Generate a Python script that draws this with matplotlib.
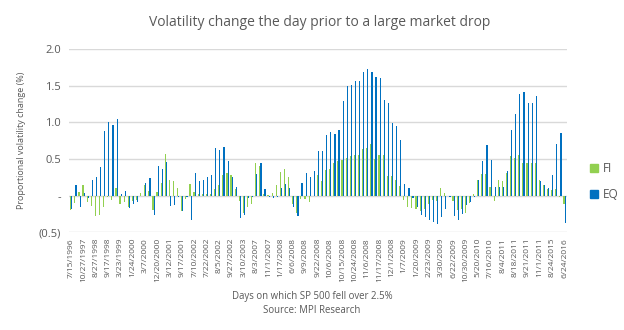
import matplotlib

matplotlib.use("Agg")
import matplotlib.pyplot as plt
import numpy as np
from matplotlib.patches import Patch

plt.rcParams["font.family"] = ["Open Sans", "DejaVu Sans"]

# Every third trading day gets a date label on the category axis
tick_labels = [
    "7/15/1996", "10/27/1997", "8/27/1998", "9/17/1998", "3/23/1999",
    "1/24/2000", "3/7/2000", "12/20/2000", "3/12/2001", "9/17/2001",
    "7/10/2002", "7/22/2002", "8/5/2002", "9/27/2002", "3/10/2003",
    "8/3/2007", "11/1/2007", "1/17/2008", "6/6/2008", "9/9/2008",
    "9/22/2008", "10/6/2008", "10/15/2008", "10/24/2008", "11/6/2008",
    "11/17/2008", "12/1/2008", "1/7/2009", "1/20/2009", "2/23/2009",
    "3/30/2009", "6/22/2009", "10/30/2009", "5/20/2010", "7/16/2010",
    "8/4/2011", "8/18/2011", "9/21/2011", "11/1/2011", "8/24/2015",
    "6/24/2016",
]
label_step = 3

# Proportional volatility change, fixed income
fi_values = [
    -0.20, -0.10, 0.05, 0.14, -0.09, -0.14, -0.28, -0.26, -0.16, -0.02,
    -0.06, 0.10, -0.11, -0.09, -0.16, -0.07, -0.06, 0.03, 0.14, 0.06,
    -0.20, 0.05, 0.18, 0.57, 0.22, 0.20, 0.10, -0.21, -0.05, 0.16,
    0.05, 0.02, 0.02, 0.02, 0.02, 0.09, 0.14, 0.28, 0.31, 0.28,
    0.09, -0.07, -0.24, -0.16, -0.12, 0.44, 0.40, 0.02, 0.005, 0.03,
    0.14, 0.32, 0.36, 0.26, -0.11, -0.24, -0.05, -0.05, -0.09, 0.0,
    0.28, 0.20, 0.35, 0.37, 0.44, 0.47, 0.49, 0.51, 0.54, 0.55,
    0.555, 0.635, 0.655, 0.70, 0.50, 0.555, 0.555, 0.265, 0.265, 0.21,
    0.13, -0.06, -0.155, -0.17, -0.18, -0.21, -0.18, -0.11, -0.06, -0.07,
    0.10, 0.03, 0.0, -0.07, -0.20, -0.18, -0.24, -0.10, 0.02, 0.21,
    0.29, 0.29, 0.115, -0.07, 0.22, 0.20, 0.31, 0.54, 0.52, 0.55,
    0.44, 0.44, 0.44, 0.44, 0.21, 0.14, 0.09, 0.08, 0.09, -0.02,
    -0.11,
]

# Proportional volatility change, equities
eq_values = [
    -0.18, 0.14, -0.15, 0.03, -0.03, 0.22, 0.26, 0.39, 0.88, 1.01,
    0.97, 1.04, 0.02, 0.06, -0.17, -0.12, -0.09, 0.0, 0.17, 0.24,
    -0.27, 0.40, 0.36, 0.46, -0.14, -0.13, -0.02, -0.21, -0.02, -0.33,
    0.31, 0.20, 0.22, 0.25, 0.28, 0.65, 0.62, 0.66, 0.48, 0.25,
    0.12, -0.30, -0.27, -0.03, -0.02, 0.29, 0.44, 0.09, -0.02, -0.03,
    -0.02, 0.11, 0.155, 0.10, -0.155, -0.28, 0.17, 0.305, 0.25, 0.335,
    0.61, 0.61, 0.83, 0.87, 0.845, 0.90, 1.29, 1.50, 1.515, 1.56,
    1.56, 1.695, 1.725, 1.685, 1.615, 1.605, 1.31, 1.26, 0.995, 0.955,
    0.765, 0.156, 0.10, -0.03, -0.155, -0.265, -0.29, -0.33, -0.36, -0.39,
    -0.29, -0.18, -0.02, -0.28, -0.33, -0.25, -0.13, -0.09, -0.02, 0.22,
    0.48, 0.69, 0.485, 0.115, 0.115, 0.12, 0.335, 0.89, 1.12, 1.385,
    1.415, 1.27, 1.27, 1.355, 0.20, 0.14, 0.10, 0.28, 0.705, 0.86,
    -0.37,
]

FI_COLOR = "#92D050"
EQ_COLOR = "#0070C0"
TEXT_COLOR = "#595959"
GRID_COLOR = "#D9D9D9"

fig = plt.figure(figsize=(6.24, 3.30), dpi=100)
ax = fig.add_axes([0.111, 0.296, 0.797, 0.555])

x = np.arange(len(fi_values))
bar_w = 0.28
ax.bar(x - bar_w / 2, fi_values, width=bar_w, color=FI_COLOR, linewidth=0, zorder=3)
ax.bar(x + bar_w / 2, eq_values, width=bar_w, color=EQ_COLOR, linewidth=0, zorder=3)

ax.set_xlim(-0.5, len(fi_values) - 0.5)
ax.set_ylim(-0.5, 2.0)

yticks = [-0.5, 0.0, 0.5, 1.0, 1.5, 2.0]


def fmt_accounting(v):
    # Excel accounting style: zero as a dash, negatives in brackets
    if abs(v) < 1e-9:
        return "-"
    if v < 0:
        return f"({abs(v):.1f})"
    return f"{v:.1f}"


ax.set_yticks(yticks)
ax.set_yticklabels([fmt_accounting(v) for v in yticks], fontsize=8, color=TEXT_COLOR)
for v in yticks:
    ax.axhline(v, color=GRID_COLOR, linewidth=1, zorder=1)

ax.set_xticks(x[::label_step])
ax.set_xticklabels(tick_labels, rotation=90, fontsize=6, color=TEXT_COLOR)
ax.tick_params(axis="both", length=0)
ax.tick_params(axis="x", pad=4)
ax.tick_params(axis="y", pad=6)

for spine in ax.spines.values():
    spine.set_visible(False)

ax.set_ylabel("Proportional volatility change (%)", fontsize=6.5, color=TEXT_COLOR, labelpad=9)

fig.text(0.513, 0.933, "Volatility change the day prior to a large market drop",
         ha="center", va="center", fontsize=10, color=TEXT_COLOR)
fig.text(0.500, 0.100, "Days on which SP 500 fell over 2.5%",
         ha="center", va="center", fontsize=6.9, color=TEXT_COLOR)
fig.text(0.500, 0.060, "Source: MPI Research",
         ha="center", va="center", fontsize=6.9, color=TEXT_COLOR)

handles = [Patch(color=FI_COLOR, label="FI"), Patch(color=EQ_COLOR, label="EQ")]
fig.legend(handles=handles, loc="center left", bbox_to_anchor=(0.928, 0.45),
           frameon=False, fontsize=8.5, labelcolor=TEXT_COLOR,
           handlelength=0.7, handleheight=0.7, handletextpad=0.4, labelspacing=1.1)

fig.savefig("out.png", dpi=100)
